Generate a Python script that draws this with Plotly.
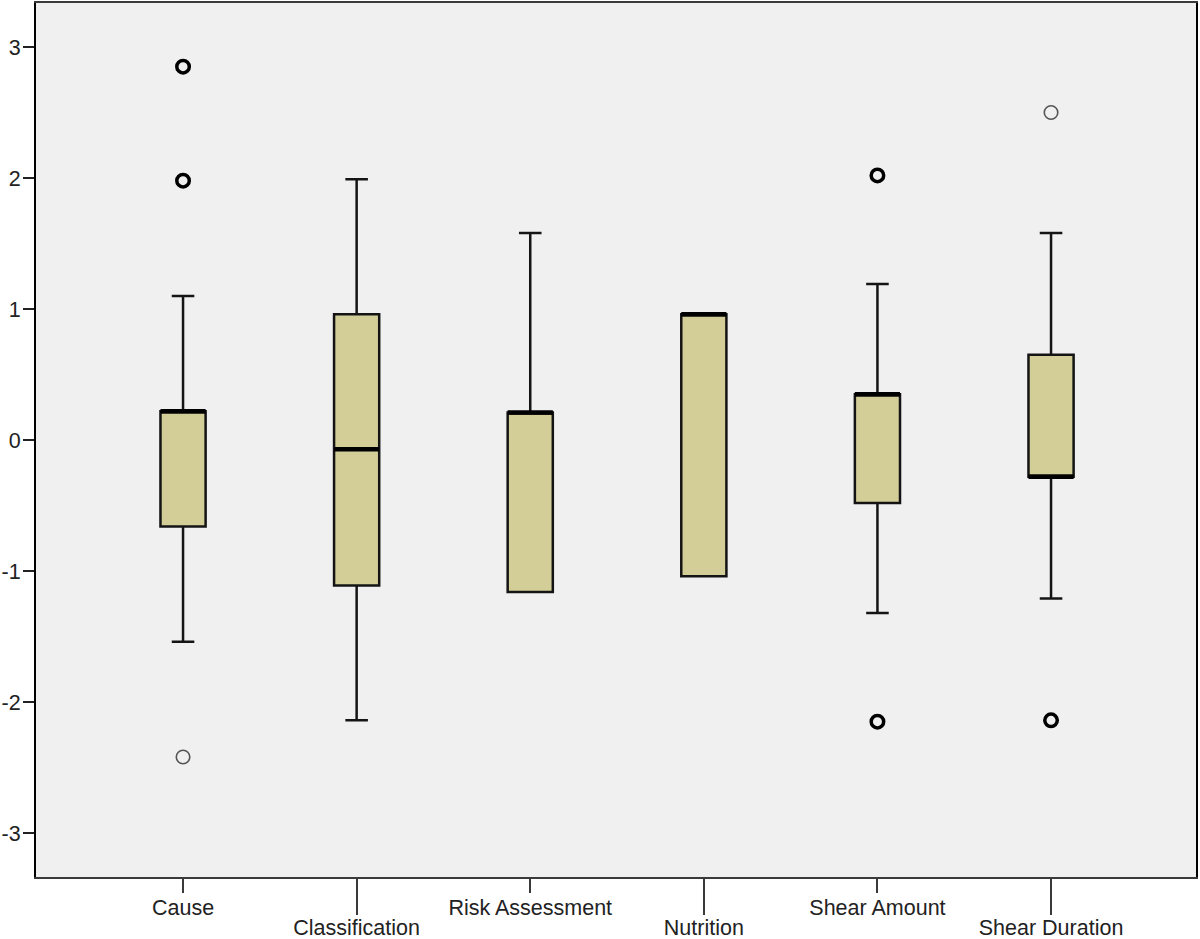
import plotly.graph_objects as go

categories = ["Cause", "Classification", "Risk Assessment", "Nutrition", "Shear Amount", "Shear Duration"]
lower_whisker = [-1.54, -2.14, -1.16, -1.04, -1.32, -1.21]
q1 = [-0.66, -1.11, -1.16, -1.04, -0.48, -0.28]
median = [0.22, -0.07, 0.21, 0.96, 0.35, -0.28]
q3 = [0.22, 0.96, 0.21, 0.96, 0.35, 0.65]
upper_whisker = [1.10, 1.99, 1.58, 0.96, 1.19, 1.58]

# outliers: (category index, value)
outlier_bold_cat = [0, 0, 4, 4, 5]
outlier_bold_val = [2.85, 1.98, 2.02, -2.15, -2.14]
outlier_thin_cat = [0, 5]
outlier_thin_val = [-2.42, 2.50]

y_ticks = [-3, -2, -1, 0, 1, 2, 3]
y_tick_text = ["-3", "-2", "-1", "0", "1", "2", "3"]

BOX_W = 0.26
FILL = "#d3ce98"
FONT = "Liberation Sans, Arial, sans-serif"
FS = 21.5

fig = go.Figure()
xs = list(range(len(categories)))

fig.add_trace(go.Box(
    x=xs, q1=q1, median=median, q3=q3,
    lowerfence=lower_whisker, upperfence=upper_whisker,
    width=BOX_W, whiskerwidth=0.5,
    fillcolor=FILL, line=dict(color="#141414", width=2.5),
    boxpoints=False, showlegend=False, hoverinfo="skip",
))

# thick median lines
for i, m in enumerate(median):
    fig.add_trace(go.Scatter(
        x=[i - BOX_W / 2, i + BOX_W / 2], y=[m, m], mode="lines",
        line=dict(color="black", width=4.5), showlegend=False, hoverinfo="skip",
    ))

fig.add_trace(go.Scatter(
    x=outlier_bold_cat, y=outlier_bold_val, mode="markers",
    marker=dict(symbol="circle-open", size=12.5, color="black", line=dict(width=3.5, color="black")),
    showlegend=False, hoverinfo="skip",
))
fig.add_trace(go.Scatter(
    x=outlier_thin_cat, y=outlier_thin_val, mode="markers",
    marker=dict(symbol="circle-open", size=13.5, color="#555555", line=dict(width=1.6, color="#555555")),
    showlegend=False, hoverinfo="skip",
))
# dummy trace for second x axis
fig.add_trace(go.Scatter(x=[None], y=[None], xaxis="x2", showlegend=False, hoverinfo="skip"))

xrange = [-0.847, 5.835]
fig.update_layout(
    width=1200, height=939,
    margin=dict(l=36, r=4, t=3, b=62, autoexpand=False),
    paper_bgcolor="white", plot_bgcolor="#f0f0f0",
    font=dict(family=FONT, size=FS, color="#222222"),
    xaxis=dict(
        range=xrange, tickmode="array", tickvals=xs[0::2], ticktext=categories[0::2],
        ticks="outside", ticklen=14, tickwidth=2, tickcolor="#3a3a3a",
        showline=True, linecolor="#3a3a3a", linewidth=2, mirror=True, automargin=False,
        showgrid=False, zeroline=False, tickfont=dict(size=FS, color="#222222"),
        ticklabelstandoff=-4,
    ),
    xaxis2=dict(
        range=xrange, overlaying="x", side="bottom", anchor="y", tickmode="array",
        tickvals=xs[1::2], ticktext=categories[1::2], automargin=False,
        ticks="outside", ticklen=37, tickwidth=2, tickcolor="#3a3a3a",
        showline=False, showgrid=False, zeroline=False, tickfont=dict(size=FS, color="#222222"),
        ticklabelstandoff=-6,
    ),
    yaxis=dict(
        range=[-3.336, 3.336], tickmode="array", tickvals=y_ticks, ticktext=y_tick_text,
        ticks="outside", ticklen=11, tickwidth=2, tickcolor="#222222", automargin=False,
        showline=True, linecolor="black", linewidth=2, mirror=True,
        showgrid=False, zeroline=False, tickfont=dict(size=FS, color="#222222"),
        ticklabelstandoff=-2,
    ),
)

fig.write_html(
    "out.html",
    config={"displayModeBar": False},
    post_script="document.body.style.margin='0';document.body.style.overflow='hidden';",
)
